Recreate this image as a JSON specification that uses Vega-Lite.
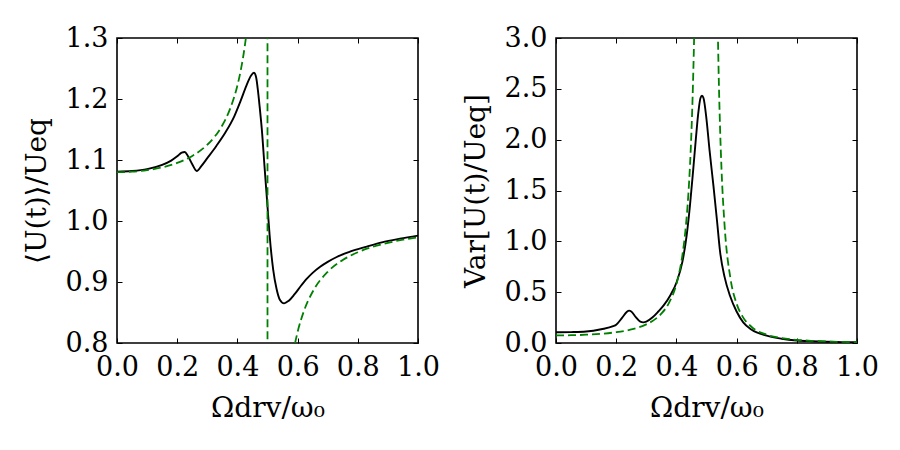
{
  "$schema": "https://vega.github.io/schema/vega-lite/v6.json",
  "background": "white",
  "padding": {"left": 22, "top": 23, "right": 10, "bottom": 10},
  "config": {
    "view": {"stroke": "black", "strokeWidth": 1.6},
    "font": "DejaVu Serif",
    "axis": {
      "domain": false,
      "grid": false,
      "tickColor": "black",
      "tickWidth": 1,
      "tickSize": -5,
      "labelFlush": false,
      "labelOverlap": false,
      "labelFont": "DejaVu Serif",
      "labelFontSize": 27,
      "labelColor": "black",
      "titleFont": "DejaVu Serif",
      "titleFontSize": 28,
      "titleFontWeight": "normal",
      "titleColor": "black"
    },
    "axisBottom": {"labelPadding": 16, "titlePadding": 14},
    "axisLeft": {"labelPadding": 14, "titlePadding": 14}
  },
  "datasets": {
    "meanSim": [
      {"w": 0.0, "v": 1.081}, {"w": 0.05, "v": 1.082}, {"w": 0.1, "v": 1.085},
      {"w": 0.15, "v": 1.092}, {"w": 0.18, "v": 1.099}, {"w": 0.2, "v": 1.106},
      {"w": 0.215, "v": 1.112}, {"w": 0.225, "v": 1.113}, {"w": 0.235, "v": 1.107},
      {"w": 0.25, "v": 1.093}, {"w": 0.265, "v": 1.082}, {"w": 0.28, "v": 1.09},
      {"w": 0.3, "v": 1.103}, {"w": 0.33, "v": 1.123}, {"w": 0.36, "v": 1.145},
      {"w": 0.39, "v": 1.172}, {"w": 0.41, "v": 1.196}, {"w": 0.43, "v": 1.222},
      {"w": 0.445, "v": 1.238}, {"w": 0.455, "v": 1.243}, {"w": 0.462, "v": 1.236},
      {"w": 0.468, "v": 1.215}, {"w": 0.474, "v": 1.187}, {"w": 0.481, "v": 1.151},
      {"w": 0.49, "v": 1.09}, {"w": 0.5, "v": 1.024}, {"w": 0.507, "v": 0.977},
      {"w": 0.519, "v": 0.92}, {"w": 0.53, "v": 0.889}, {"w": 0.541, "v": 0.871},
      {"w": 0.555, "v": 0.865}, {"w": 0.57, "v": 0.869}, {"w": 0.59, "v": 0.88},
      {"w": 0.61, "v": 0.893}, {"w": 0.63, "v": 0.905}, {"w": 0.65, "v": 0.915},
      {"w": 0.675, "v": 0.925}, {"w": 0.7, "v": 0.933}, {"w": 0.73, "v": 0.941},
      {"w": 0.77, "v": 0.949}, {"w": 0.83, "v": 0.958}, {"w": 0.88, "v": 0.965},
      {"w": 0.94, "v": 0.971}, {"w": 1.0, "v": 0.976}
    ],
    "meanTheory": [
      {"w": 0.0, "v": 1.08}, {"w": 0.05, "v": 1.0808}, {"w": 0.1, "v": 1.0833},
      {"w": 0.15, "v": 1.0879}, {"w": 0.2, "v": 1.0952}, {"w": 0.25, "v": 1.1067},
      {"w": 0.3, "v": 1.125}, {"w": 0.325, "v": 1.1385}, {"w": 0.35, "v": 1.1569},
      {"w": 0.375, "v": 1.1829}, {"w": 0.4, "v": 1.2222}, {"w": 0.41, "v": 1.2442},
      {"w": 0.415, "v": 1.2572}, {"w": 0.42, "v": 1.2717}, {"w": 0.425, "v": 1.2883},
      {"w": 0.43, "v": 1.3072}, {"w": 0.435, "v": 1.3291}, {"w": 0.44, "v": 1.3546},
      {"w": 0.45, "v": 1.421}, {"w": 0.47, "v": 1.687}, {"w": 0.49, "v": 3.02},
      {"w": 0.499, "v": 21.0}, {"w": 0.501, "v": -18.98}, {"w": 0.51, "v": -0.98},
      {"w": 0.53, "v": 0.353}, {"w": 0.55, "v": 0.619}, {"w": 0.57, "v": 0.733},
      {"w": 0.58, "v": 0.7685}, {"w": 0.59, "v": 0.796}, {"w": 0.6, "v": 0.818},
      {"w": 0.62, "v": 0.851}, {"w": 0.65, "v": 0.884}, {"w": 0.7, "v": 0.9167},
      {"w": 0.75, "v": 0.936}, {"w": 0.8, "v": 0.9487}, {"w": 0.85, "v": 0.9577},
      {"w": 0.9, "v": 0.9643}, {"w": 0.95, "v": 0.9693}, {"w": 1.0, "v": 0.9733}
    ],
    "varSim": [
      {"w": 0.0, "v": 0.105}, {"w": 0.05, "v": 0.107}, {"w": 0.1, "v": 0.113},
      {"w": 0.15, "v": 0.135}, {"w": 0.19, "v": 0.165}, {"w": 0.2, "v": 0.18},
      {"w": 0.22, "v": 0.25}, {"w": 0.235, "v": 0.305}, {"w": 0.243, "v": 0.318},
      {"w": 0.25, "v": 0.31}, {"w": 0.265, "v": 0.255}, {"w": 0.28, "v": 0.21},
      {"w": 0.29, "v": 0.203}, {"w": 0.3, "v": 0.21}, {"w": 0.32, "v": 0.25},
      {"w": 0.34, "v": 0.31}, {"w": 0.357, "v": 0.367}, {"w": 0.38, "v": 0.47},
      {"w": 0.401, "v": 0.6}, {"w": 0.42, "v": 0.8}, {"w": 0.434, "v": 1.055},
      {"w": 0.445, "v": 1.35}, {"w": 0.456, "v": 1.71}, {"w": 0.465, "v": 2.02},
      {"w": 0.473, "v": 2.27}, {"w": 0.48, "v": 2.41}, {"w": 0.485, "v": 2.432},
      {"w": 0.49, "v": 2.41}, {"w": 0.5, "v": 2.2}, {"w": 0.51, "v": 1.9},
      {"w": 0.523, "v": 1.547}, {"w": 0.535, "v": 1.2}, {"w": 0.545, "v": 0.9},
      {"w": 0.56, "v": 0.65}, {"w": 0.578, "v": 0.465}, {"w": 0.6, "v": 0.31},
      {"w": 0.622, "v": 0.203}, {"w": 0.65, "v": 0.13}, {"w": 0.7, "v": 0.072},
      {"w": 0.75, "v": 0.042}, {"w": 0.8, "v": 0.025}, {"w": 0.85, "v": 0.017},
      {"w": 0.9, "v": 0.012}, {"w": 0.95, "v": 0.009}, {"w": 1.0, "v": 0.007}
    ],
    "varTheory": [
      {"w": 0.0, "v": 0.075}, {"w": 0.05, "v": 0.0765}, {"w": 0.1, "v": 0.0814},
      {"w": 0.15, "v": 0.0906}, {"w": 0.2, "v": 0.1063}, {"w": 0.25, "v": 0.1333},
      {"w": 0.3, "v": 0.1831}, {"w": 0.325, "v": 0.2249}, {"w": 0.35, "v": 0.2884},
      {"w": 0.375, "v": 0.3918}, {"w": 0.4, "v": 0.5787}, {"w": 0.41, "v": 0.6988},
      {"w": 0.42, "v": 0.8653}, {"w": 0.43, "v": 1.106}, {"w": 0.44, "v": 1.474},
      {"w": 0.445, "v": 1.735}, {"w": 0.45, "v": 2.078}, {"w": 0.455, "v": 2.538},
      {"w": 0.46, "v": 3.179}, {"w": 0.47, "v": 5.535}, {"w": 0.48, "v": 12.2},
      {"w": 0.49, "v": 47.8}, {"w": 0.51, "v": 45.9}, {"w": 0.52, "v": 11.26},
      {"w": 0.53, "v": 4.909}, {"w": 0.535, "v": 3.572}, {"w": 0.54, "v": 2.709},
      {"w": 0.545, "v": 2.12}, {"w": 0.55, "v": 1.701}, {"w": 0.56, "v": 1.159},
      {"w": 0.58, "v": 0.628}, {"w": 0.6, "v": 0.387}, {"w": 0.62, "v": 0.2595},
      {"w": 0.65, "v": 0.1575}, {"w": 0.7, "v": 0.0814}, {"w": 0.75, "v": 0.048},
      {"w": 0.8, "v": 0.0308}, {"w": 0.85, "v": 0.021}, {"w": 0.9, "v": 0.01495},
      {"w": 0.95, "v": 0.011}, {"w": 1.0, "v": 0.00833}
    ]
  },
  "spacing": 20,
  "hconcat": [
    {
      "width": 301,
      "height": 305,
      "resolve": {"axis": {"x": "independent", "y": "independent"}},
      "layer": [
        {
          "data": {"name": "meanSim"},
          "mark": {"type": "line", "color": "black", "strokeWidth": 1.9, "clip": true, "interpolate": "monotone"},
          "encoding": {
            "x": {"field": "w", "type": "quantitative", "scale": {"domain": [0, 1], "nice": false},
                  "axis": {"orient": "bottom", "values": [0, 0.2, 0.4, 0.6, 0.8, 1.0], "format": ".1f", "title": "Ωdrv/ω₀"}},
            "y": {"field": "v", "type": "quantitative", "scale": {"domain": [0.8, 1.3], "nice": false, "zero": false},
                  "axis": {"orient": "left", "values": [0.8, 0.9, 1.0, 1.1, 1.2, 1.3], "format": ".1f", "title": "⟨U(t)⟩/Ueq"}}
          }
        },
        {
          "data": {"name": "meanTheory"},
          "mark": {"type": "line", "color": "#008000", "strokeWidth": 1.8, "strokeDash": [8, 4], "clip": true, "interpolate": "monotone"},
          "encoding": {
            "x": {"field": "w", "type": "quantitative",
                  "axis": {"orient": "top", "values": [0, 0.2, 0.4, 0.6, 0.8, 1.0], "labels": false, "title": null}},
            "y": {"field": "v", "type": "quantitative",
                  "axis": {"orient": "right", "values": [0.8, 0.9, 1.0, 1.1, 1.2, 1.3], "labels": false, "title": null}}
          }
        }
      ]
    },
    {
      "width": 301,
      "height": 305,
      "resolve": {"axis": {"x": "independent", "y": "independent"}},
      "layer": [
        {
          "data": {"name": "varSim"},
          "mark": {"type": "line", "color": "black", "strokeWidth": 1.9, "clip": true, "interpolate": "monotone"},
          "encoding": {
            "x": {"field": "w", "type": "quantitative", "scale": {"domain": [0, 1], "nice": false},
                  "axis": {"orient": "bottom", "values": [0, 0.2, 0.4, 0.6, 0.8, 1.0], "format": ".1f", "title": "Ωdrv/ω₀"}},
            "y": {"field": "v", "type": "quantitative", "scale": {"domain": [0, 3], "nice": false},
                  "axis": {"orient": "left", "values": [0, 0.5, 1.0, 1.5, 2.0, 2.5, 3.0], "format": ".1f", "title": "Var[U(t)/Ueq]"}}
          }
        },
        {
          "data": {"name": "varTheory"},
          "mark": {"type": "line", "color": "#008000", "strokeWidth": 1.8, "strokeDash": [8, 4], "clip": true, "interpolate": "monotone"},
          "encoding": {
            "x": {"field": "w", "type": "quantitative",
                  "axis": {"orient": "top", "values": [0, 0.2, 0.4, 0.6, 0.8, 1.0], "labels": false, "title": null}},
            "y": {"field": "v", "type": "quantitative",
                  "axis": {"orient": "right", "values": [0, 0.5, 1.0, 1.5, 2.0, 2.5, 3.0], "labels": false, "title": null}}
          }
        }
      ]
    }
  ]
}
